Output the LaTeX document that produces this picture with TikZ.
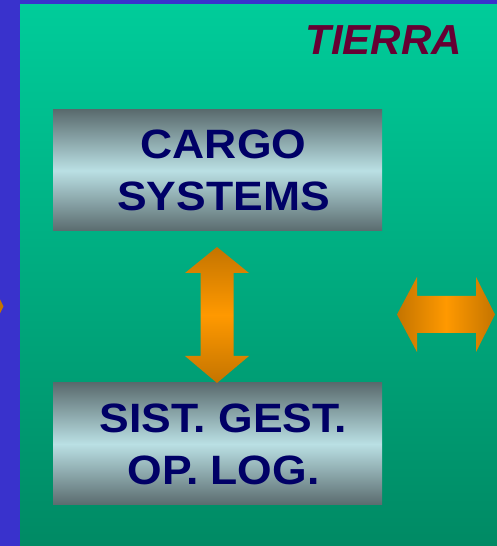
\documentclass[tikz,border=0pt]{standalone}
\usepackage{fontspec}
\setmainfont{Liberation Sans}
\newfontfamily\fonteCaixa[FakeStretch=1.085]{Liberation Sans}
\definecolor{azulFundo}{RGB}{57,50,204}
\definecolor{verdeTopo}{RGB}{0,204,154}
\definecolor{verdeBase}{RGB}{0,138,100}
\definecolor{cinzaEscuro}{RGB}{90,107,110}
\definecolor{cinzaClaro}{RGB}{186,224,228}
\definecolor{laranjaClaro}{RGB}{255,153,0}
\definecolor{laranjaEscuro}{RGB}{196,116,0}
\definecolor{vinho}{RGB}{102,0,51}
\definecolor{marinho}{RGB}{0,0,102}
\begin{document}
\begin{tikzpicture}[
    x=1pt,
    y=1pt,
    caixa/.style={rectangle, inner sep=0pt, minimum width=329pt,
        top color=cinzaEscuro, bottom color=cinzaEscuro, middle color=cinzaClaro},
    texto/.style={inner sep=0pt, align=center, text=marinho,
        font=\fonteCaixa\bfseries\fontsize{41}{52}\selectfont},
    setaV/.style={top color=laranjaEscuro, bottom color=laranjaEscuro, middle color=laranjaClaro},
    setaH/.style={left color=laranjaEscuro, right color=laranjaEscuro, middle color=laranjaClaro}
]
\useasboundingbox (0,0) rectangle (497,546);

% Fundo:
% faixa azul à esquerda e no topo, área verde em degradê vertical.
\fill[azulFundo] (0,0) rectangle (497,546);
\shade[top color=verdeTopo, bottom color=verdeBase] (20,0) rectangle (497,541);

% Título no canto superior direito.
\node[anchor=base, text=vinho, inner sep=0pt,
    font=\bfseries\itshape\fontsize{42}{48}\selectfont] (titulo) at (383.5,491.5) {TIERRA};

% Caixas dos sistemas:
% mesma largura, centralizadas na mesma vertical.
\node[caixa, minimum height=121pt] (cargo) at (217.5,375.5) {};
\node[texto] (textoCargo) at ([xshift=6pt]cargo.center) {CARGO\\SYSTEMS};

\node[caixa, minimum height=122pt] (gestao) at (217.5,102) {};
\node[texto] (textoGestao) at ([xshift=6pt]gestao.center) {SIST. GEST.\\OP. LOG.};

% Seta dupla vertical entre as duas caixas.
\shade[setaV] (217,299) -- (249,273) -- (233.5,273) -- (233.5,190) -- (249,190)
    -- (217,163) -- (185,190) -- (200.5,190) -- (200.5,273) -- (185,273) -- cycle;

% Seta dupla horizontal, à direita, saindo da figura.
\shade[setaH] (397,231.5) -- (417,269) -- (417,250) -- (476,250) -- (476,269)
    -- (495,231.5) -- (476,194) -- (476,213) -- (417,213) -- (417,194) -- cycle;

% Ponta de seta cortada na borda esquerda.
\fill[laranjaEscuro] (0,246.5) -- (3.5,239.5) -- (0,232.5) -- cycle;

\end{tikzpicture}
\end{document}
